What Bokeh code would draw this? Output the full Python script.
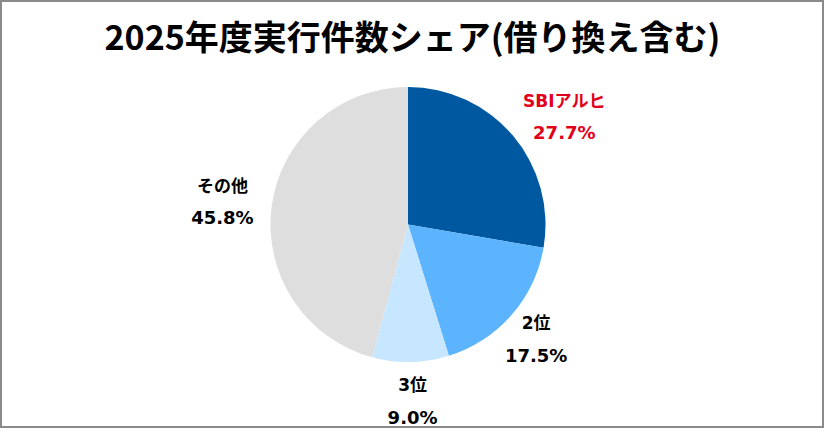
import numpy as np
from bokeh.plotting import figure
from bokeh.models import ColumnDataSource, Range1d
from bokeh.core.properties import value
from bokeh.embed import file_html
from bokeh.resources import INLINE

title_text = "2025年度実行件数シェア(借り換え含む)"
names = ["SBIアルヒ", "2位", "3位", "その他"]
shares = [27.7, 17.5, 9.0, 45.8]

# styles
slice_colors = ["#0058A0", "#5CB4FF", "#C6E7FF", "#DEDEDE"]
label_colors = ["#E2001A", "#000000", "#000000", "#000000"]
label_radius = [190, 172, 177, 187]
label_nudge_deg = [5.5, 0.6, -0.4, -0.5]

W, H = 824, 428
cx, cy, R = 407.5, 204.0, 137.5

p = figure(width=W, height=H, x_range=Range1d(0, W), y_range=Range1d(0, H),
           output_backend="svg", toolbar_location=None, min_border=0)
p.axis.visible = False
p.grid.visible = False
p.outline_line_color = "#8a8a8a"
p.outline_line_width = 3
p.background_fill_color = "white"
p.border_fill_color = "white"

vals = np.array(shares, dtype=float)
frac = vals / vals.sum()
cum = np.concatenate([[0.0], np.cumsum(frac)])
start = np.pi / 2 - 2 * np.pi * cum[:-1]
end = np.pi / 2 - 2 * np.pi * cum[1:]

src = ColumnDataSource(dict(start=start, end=end, color=slice_colors))
p.wedge(x=cx, y=cy, radius=R, start_angle="start", end_angle="end",
        direction="clock", fill_color="color", line_color=None, source=src)

mid_deg = 360 * (cum[:-1] + cum[1:]) / 2 + np.array(label_nudge_deg)
rad = np.deg2rad(mid_deg)
lx = cx + np.array(label_radius) * np.sin(rad)
ly = cy + np.array(label_radius) * np.cos(rad)

pct = [f"{v:.1f}%" for v in shares]
lab = ColumnDataSource(dict(x=lx, yn=ly + 16, yp=ly - 16, name=names, pct=pct, color=label_colors))
font = value("DejaVu Sans, Noto Sans CJK JP")
p.text(x="x", y="yn", text="name", source=lab, text_color="color", text_font=font,
       text_font_size="17px", text_font_style="bold", text_align="center", text_baseline="middle")
p.text(x="x", y="yp", text="pct", source=lab, text_color="color", text_font=font,
       text_font_size="18px", text_font_style="bold", text_align="center", text_baseline="middle")

p.text(x=[412], y=[393], text=[title_text], text_font=value("Noto Sans CJK JP"),
       text_font_size="34px", text_font_style="bold", text_color="#000000",
       text_align="center", text_baseline="middle")

open("out.html", "w").write(file_html(p, INLINE))
